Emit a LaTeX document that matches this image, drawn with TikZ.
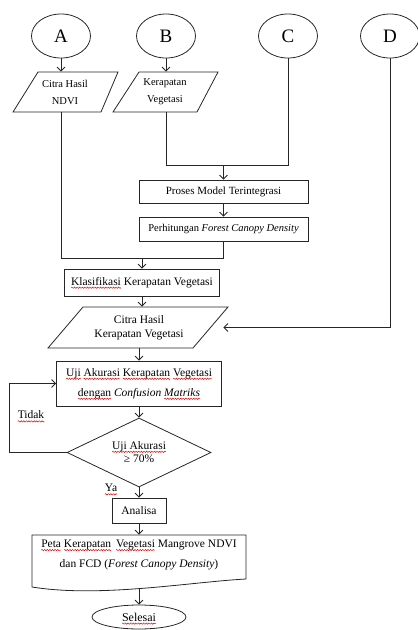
\documentclass[tikz,border=0pt]{standalone}
\usepackage{fontspec}
\setmainfont{Liberation Serif}
\usetikzlibrary{shapes.geometric,arrows.meta,decorations.pathmorphing}
\newsavebox\wfull \newsavebox\wpre \newsavebox\wword
\newdimen\wxa \newdimen\wxb
\makeatletter
% name, size, centre x, full line, text before word, word
\newcommand\wmeasure[6]{%
  \sbox\wfull{\fontsize{#2}{#2}\selectfont #4}%
  \sbox\wpre{\fontsize{#2}{#2}\selectfont #5}%
  \sbox\wword{\fontsize{#2}{#2}\selectfont #6}%
  \wxa=#3pt \advance\wxa by -0.5\wd\wfull \advance\wxa by \wd\wpre
  \wxb=\wxa \advance\wxb by \wd\wword
  \expandafter\xdef\csname wva#1\endcsname{\strip@pt\wxa}%
  \expandafter\xdef\csname wvb#1\endcsname{\strip@pt\wxb}}
\makeatother
\newcommand\sqw[2]{\draw[wave] (\csname wva#1\endcsname,#2) -- (\csname wvb#1\endcsname,#2);}
\AtBeginDocument{%
  \wmeasure{kl}{11.5}{142}{Klasifikasi Kerapatan Vegetasi}{}{Klasifikasi}%
  \wmeasure{ua}{11.5}{139}{Uji Akurasi Kerapatan Vegetasi}{}{Uji}%
  \wmeasure{ub}{11.5}{139}{Uji Akurasi Kerapatan Vegetasi}{Uji }{Akurasi}%
  \wmeasure{uc}{11.5}{139}{Uji Akurasi Kerapatan Vegetasi}{Uji Akurasi }{Kerapatan}%
  \wmeasure{ud}{11.5}{139}{Uji Akurasi Kerapatan Vegetasi}{Uji Akurasi Kerapatan }{Vegetasi}%
  \wmeasure{ue}{11.5}{139}{dengan \textit{Confusion Matriks}}{}{dengan}%
  \wmeasure{uf}{11.5}{139}{dengan \textit{Confusion Matriks}}{dengan \textit{Confusion }}{\textit{Matriks}}%
  \wmeasure{di}{11.5}{139}{Uji Akurasi}{}{Uji Akurasi}%
  \wmeasure{ti}{11.5}{31}{Tidak}{}{Tidak}%
  \wmeasure{ya}{11.5}{111}{Ya}{}{Ya}%
  \wmeasure{pa}{11.5}{139}{Peta Kerapatan\, Vegetasi Mangrove NDVI}{}{Peta}%
  \wmeasure{pb}{11.5}{139}{Peta Kerapatan\, Vegetasi Mangrove NDVI}{Peta }{Kerapatan}%
  \wmeasure{pc}{11.5}{139}{Peta Kerapatan\, Vegetasi Mangrove NDVI}{Peta Kerapatan\, }{Vegetasi}%
  \wmeasure{se}{12}{139}{Selesai}{}{Selesai}%
}
\begin{document}
\begin{tikzpicture}[x=1pt,y=-1pt,line width=0.8pt,draw=black!85,
  arr/.style={-{Straight Barb[length=4pt,width=8pt]}},
  wave/.style={draw=red!85!black,line width=0.45pt,decorate,decoration={snake,amplitude=0.7pt,segment length=2.6pt}},
  conn/.style={ellipse,draw,minimum width=59pt,minimum height=44pt,inner sep=0pt,font=\fontsize{19}{21}\selectfont},
  box/.style={draw,rectangle,inner sep=0pt,align=center},
  txt/.style={inner sep=0pt,align=center},
  fs/.style={font=\fontsize{11.5}{13.5}\selectfont}]
\useasboundingbox (0,0) rectangle (418,630);
% connectors on top
\node[conn] (A) at (61,36) {A};
\node[conn] (B) at (166,36) {B};
\node[conn] (C) at (288,36) {C};
\node[conn] (D) at (390,36) {D};
% parallelogram 1
\draw (38,72) -- (118,72) -- (101,112) -- (13,112) -- cycle;
\node[txt,minimum width=70pt,minimum height=40pt,font=\fontsize{10.5}{17}\selectfont] (p1) at (65,92) {Citra Hasil\\NDVI};
% parallelogram 2
\draw (139,72) -- (218,72) -- (197,112) -- (113,112) -- cycle;
\node[txt,minimum width=70pt,minimum height=40pt,font=\fontsize{10.5}{17}\selectfont] (p2) at (165,92) {Kerapatan\\Vegetasi};
\draw[arr] (A.south) -- (A.south|-p1.north);
\draw[arr] (B.south) -- (B.south|-p2.north);
% process boxes
\node[box,minimum width=169pt,minimum height=23pt,font=\fontsize{11}{13}\selectfont] (pm) at (223.5,191.5) {Proses Model Terintegrasi};
\node[box,minimum width=169pt,minimum height=24pt,font=\fontsize{10.5}{13}\selectfont] (fcd) at (223.5,229) {Perhitungan \textit{Forest Canopy Density}};
\coordinate (j1) at (223.5,165);
\draw (B.south|-p2.south) |- (C.south|-j1) -- (C.south);
\draw[arr] (j1) -- (pm.north);
\draw[arr] (pm.south) -- (fcd.north);
\node[box,minimum width=155pt,minimum height=27pt,fs] (kl) at (142,282.5) {Klasifikasi Kerapatan Vegetasi};
\sqw{kl}{287.7}
\coordinate (j2) at (142,258);
\draw (A.south|-p1.south) |- (fcd.south|-j2) -- (fcd.south);
\draw[arr] (j2) -- (kl.north);
% parallelogram 3
\draw (83,307) -- (228,307) -- (193,348) -- (48,348) -- cycle;
\node[txt,minimum width=168pt,minimum height=41pt,fs] (p3) at (139,327.5) {Citra Hasil\\Kerapatan Vegetasi};
\draw[arr] (kl.south) -- (kl.south|-p3.north);
\draw[arr] (D.south) |- (p3.east);
% accuracy test
\node[box,minimum width=165pt,minimum height=45pt,font=\fontsize{11.5}{20}\selectfont] (uji) at (139,383.5) {Uji Akurasi Kerapatan Vegetasi\\dengan \textit{Confusion Matriks}};
\sqw{ua}{378.8}\sqw{ub}{378.8}\sqw{uc}{378.8}\sqw{ud}{378.8}
\sqw{ue}{398.8}\sqw{uf}{398.8}
\draw[arr] (p3.south) -- (uji.north);
\node[diamond,draw,aspect=2.09,minimum width=144pt,minimum height=69pt,inner sep=0pt,align=center,font=\fontsize{11.5}{13}\selectfont] (dia) at (139,452.5) {Uji Akurasi\\≥ 70\%};
\sqw{di}{451.8}
\draw[arr] (uji.south) -- (dia.north);
\draw[arr] (dia.west) -- ++(-57,0) |- (uji.west);
\node[txt,fs] (tidak) at (31,415) {Tidak};
\sqw{ti}{421.4}
\node[txt,fs] (ya) at (111,488) {Ya};
\sqw{ya}{494.3}
\node[box,minimum width=54pt,minimum height=25pt,fs] (ana) at (139,510.5) {Analisa};
\draw[arr] (dia.south) -- (ana.north);
% document shape
\draw (32,535) -- (246,535) -- (246,579) .. controls (190,582) and (100,598) .. (32,587) -- cycle;
\node[inner sep=0pt,minimum width=214pt,minimum height=53pt] (doc) at (139,561.5) {};
\node[txt,font=\fontsize{11.5}{20}\selectfont] (doctext) at (139,555) {Peta Kerapatan\, Vegetasi Mangrove NDVI\\dan FCD (\textit{Forest Canopy Density})};
\sqw{pa}{550.1}\sqw{pb}{550.1}\sqw{pc}{550.1}
\draw[arr] (ana.south) -- (doc.north);
\node[ellipse,draw,minimum width=94pt,minimum height=24pt,inner sep=0pt,font=\fontsize{12}{14}\selectfont] (sel) at (139,617) {Selesai};
\sqw{se}{623.6}
\draw[arr] (doc.south) -- (sel.north);
\end{tikzpicture}
\end{document}
